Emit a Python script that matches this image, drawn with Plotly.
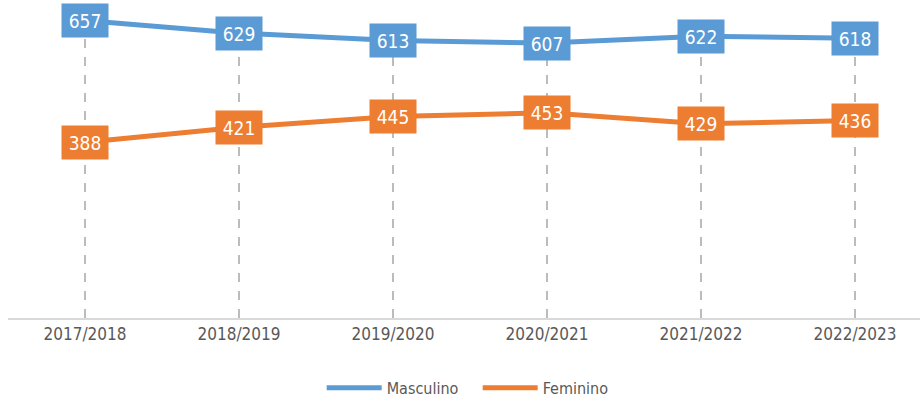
import plotly.graph_objects as go

categories = ["2017/2018", "2018/2019", "2019/2020", "2020/2021", "2021/2022", "2022/2023"]
masculino = [657, 629, 613, 607, 622, 618]
feminino = [388, 421, 445, 453, 429, 436]

blue = "#5B9BD5"
orange = "#ED7D31"
font_family = "Liberation Sans Narrow, Arial Narrow, DejaVu Sans Condensed, Liberation Sans, Arial"

fig = go.Figure()

# drop lines
dx, dy = [], []
for i, c in enumerate(categories):
    dx += [c, c, None]
    dy += [0, max(masculino[i], feminino[i]), None]
fig.add_trace(go.Scatter(x=dx, y=dy, mode="lines", showlegend=False, hoverinfo="skip",
                         line=dict(color="#A6A6A6", width=1.5, dash="dash")))

fig.add_trace(go.Scatter(x=categories, y=masculino, mode="lines", name="Masculino",
                         line=dict(color=blue, width=5)))
fig.add_trace(go.Scatter(x=categories, y=feminino, mode="lines", name="Feminino",
                         line=dict(color=orange, width=5)))

for series, color in ((masculino, blue), (feminino, orange)):
    for c, v in zip(categories, series):
        fig.add_annotation(x=c, y=v, xref="x", yref="y", text=str(v), showarrow=False,
                           bgcolor=color, width=40, height=27, borderpad=3,
                           font=dict(color="white", size=19, family=font_family))

fig.update_layout(
    width=920, height=403,
    margin=dict(l=8, r=0, t=1, b=85, autoexpand=False),
    paper_bgcolor="white", plot_bgcolor="white",
    xaxis=dict(type="category", range=[-0.5, 5.422], showgrid=False, zeroline=False,
               showline=True, linecolor="#D9D9D9", linewidth=1.5, ticks="",
               tickfont=dict(size=17, color="#595959", family=font_family)),
    yaxis=dict(range=[0, 700], visible=False, showgrid=False, zeroline=False),
    legend=dict(orientation="h", x=0.515, xanchor="center", y=-0.22, yanchor="middle",
                font=dict(size=16, color="#595959", family=font_family),
                itemwidth=55, tracegroupgap=0, entrywidth=86),
    showlegend=True,
)

fig.write_html("out.html", config={"displayModeBar": False},
               post_script="document.body.style.margin='0';document.body.style.overflow='hidden';")
